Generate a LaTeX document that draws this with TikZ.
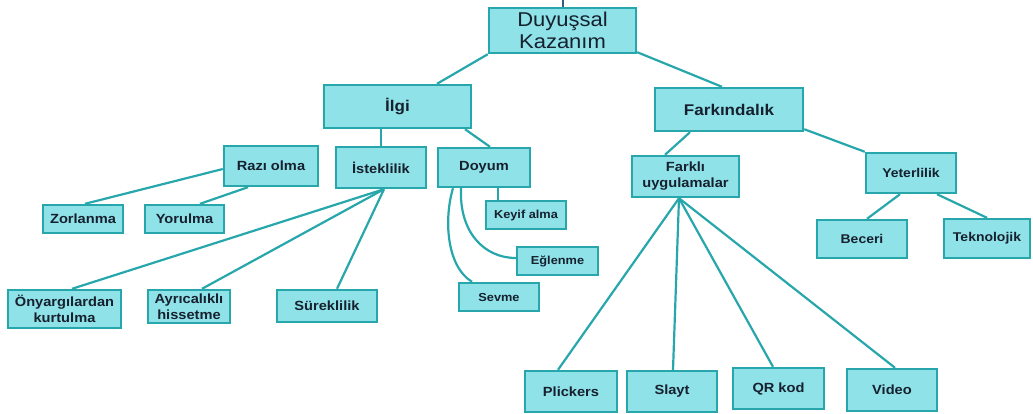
\documentclass[tikz,border=0pt]{standalone}
\usepackage{fontspec}
\setmainfont{Liberation Sans}[FakeStretch=1.1]
\begin{document}
\definecolor{boxfill}{HTML}{8EE2E8}
\definecolor{boxline}{HTML}{27A7AC}
\definecolor{ink}{HTML}{17202E}
\definecolor{stub}{HTML}{3A5C7C}
\begin{tikzpicture}[x=1pt,y=-1pt,
  box/.style={draw=boxline,fill=boxfill,line width=2.4pt,inner sep=0pt,
    align=center,text=ink,font=\bfseries\fontsize{13.3}{16}\selectfont},
  small/.style={font=\bfseries\fontsize{11.6}{13}\selectfont},
  mid/.style={font=\bfseries\fontsize{12.7}{14}\selectfont},
  big/.style={font=\bfseries\fontsize{15.5}{17}\selectfont},
  link/.style={draw=boxline,line width=2.2pt}]
\useasboundingbox (0,0) rectangle (1033,413);

% root
\node[box,font=\fontsize{20}{21.5}\selectfont,minimum width=147pt,minimum height=45pt] (top) at (562.5,30.5) {Duyuşsal\\Kazanım};
\coordinate (above) at (562.5,0);

% second level
\node[box,big,minimum width=147pt,minimum height=43pt] (ilgi) at (397.5,106.5) {İlgi};
\node[box,big,minimum width=148pt,minimum height=43pt] (fark) at (729,109.5) {Farkındalık};

% under İlgi
\node[box,minimum width=94pt,minimum height=40pt] (razi) at (271,166) {Razı olma};
\node[box,minimum width=90pt,minimum height=41pt] (istek) at (381,167.5) {İsteklilik};
\node[box,minimum width=92pt,minimum height=39pt] (doyum) at (484,167.5) {Doyum};
\node[box,minimum width=80pt,minimum height=28pt] (zor) at (83,219) {Zorlanma};
\node[box,minimum width=79pt,minimum height=28pt] (yor) at (184.5,219) {Yorulma};
\node[box,minimum width=113pt,minimum height=38pt] (onyar) at (64.5,309) {Önyargılardan\\kurtulma};
\node[box,minimum width=82pt,minimum height=33pt] (ayric) at (189,306.5) {Ayrıcalıklı\\hissetme};
\node[box,minimum width=100pt,minimum height=32pt] (surek) at (327,306) {Süreklilik};
\node[box,small,minimum width=80pt,minimum height=28pt] (keyif) at (526,215) {Keyif alma};
\node[box,small,minimum width=81pt,minimum height=28pt] (eglen) at (557.5,261) {Eğlenme};
\node[box,small,minimum width=80pt,minimum height=28pt] (sevme) at (499,297) {Sevme};

% under Farkındalık
\node[box,minimum width=107pt,minimum height=41pt] (farkli) at (685.5,176.5) {Farklı\\uygulamalar};
\node[box,mid,minimum width=90pt,minimum height=40pt] (yeter) at (911,173) {Yeterlilik};
\node[box,mid,minimum width=90pt,minimum height=38pt] (beceri) at (862,239) {Beceri};
\node[box,mid,minimum width=86pt,minimum height=39pt] (tekno) at (987,238.5) {Teknolojik};
\node[box,minimum width=92pt,minimum height=41pt] (plick) at (571,391.5) {Plickers};
\node[box,minimum width=90pt,minimum height=41pt] (slayt) at (672,391.5) {Slayt};
\node[box,minimum width=91pt,minimum height=41pt] (qr) at (778.5,388.5) {QR kod};
\node[box,minimum width=90pt,minimum height=42pt] (video) at (892,390) {Video};

% connectors
\draw[draw=stub,line width=2pt] (above) -- (top.north);
\draw[link] (top.south west) -- ([xshift=39.5pt]ilgi.north);
\draw[link] ([yshift=2pt]top.south east) -- ([xshift=-7pt]fark.north);
\draw[link] (istek.north |- ilgi.south) -- (istek.north);
\draw[link] ([xshift=67.5pt]ilgi.south) -- ([xshift=6pt]doyum.north);
\draw[link] ([xshift=-39pt]fark.south) -- ([xshift=-20.5pt]farkli.north);
\draw[link] ([yshift=3pt]fark.south east) -- (yeter.north west);

\draw[link] ([yshift=-3pt]razi.west) -- ([xshift=2pt]zor.north);
\draw[link] ([xshift=-23pt]razi.south) -- ([xshift=15.5pt]yor.north);

\draw[link] ([xshift=3pt]istek.south) -- ([xshift=7.5pt]onyar.north);
\draw[link] ([xshift=3pt]istek.south) -- ([xshift=13pt]ayric.north);
\draw[link] ([xshift=3pt]istek.south) -- ([xshift=10pt]surek.north);

\draw[link] ([xshift=14pt]doyum.south) -- ([xshift=-28pt]keyif.north);
\draw[link] ([xshift=-23pt]doyum.south) .. controls (459,232) and (484,258) .. ([yshift=3pt]eglen.west);
\draw[link] ([xshift=-31pt]doyum.south) .. controls (444,218) and (446,266) .. ([xshift=-27pt]sevme.north);

\draw[link] ([xshift=-6.5pt]farkli.south) -- ([xshift=-13pt]plick.north);
\draw[link] ([xshift=-6.5pt]farkli.south) -- ([xshift=1pt]slayt.north);
\draw[link] ([xshift=-6.5pt]farkli.south) -- ([xshift=-5.5pt]qr.north);
\draw[link] ([xshift=-6.5pt]farkli.south) -- ([xshift=3pt]video.north);

\draw[link] ([xshift=-11pt]yeter.south) -- ([xshift=5pt]beceri.north);
\draw[link] ([xshift=26pt]yeter.south) -- (tekno.north);
\end{tikzpicture}
\end{document}
